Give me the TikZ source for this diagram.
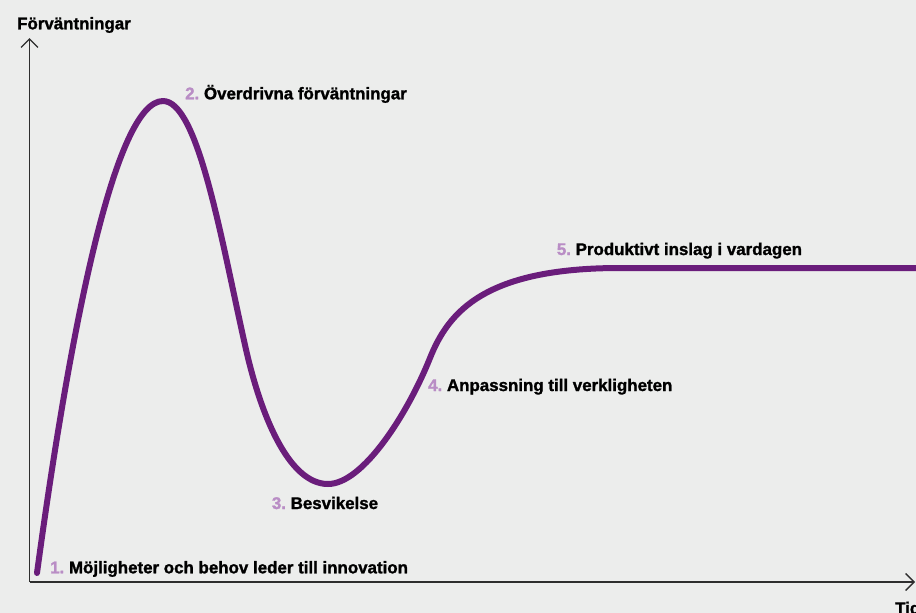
\documentclass[tikz,border=0pt]{standalone}
\usepackage{fontspec}
\setmainfont{Liberation Sans}[BoldFeatures={FakeBold=1.4}]
\usetikzlibrary{arrows.meta}
\definecolor{bg}{HTML}{ECEDEC}
\definecolor{curve}{HTML}{6A1D7B}
\definecolor{numc}{HTML}{B98DC5}
\definecolor{axis}{HTML}{2E2E2E}
\tikzset{
  lbl/.style={anchor=base west, inner sep=0pt, font=\fontsize{16.9}{20}\selectfont\bfseries, text=black},
  axisline/.style={draw=axis, line width=1.3pt, -{Straight Barb[length=8.5pt,width=17pt,line width=1.3pt]}},
  hype/.style={draw=curve, line width=6pt, line cap=round, line join=round}
}
\newcommand{\stepnum}[1]{{\color{numc}#1}\ }
\begin{document}
\begin{tikzpicture}[x=1pt,y=-1pt]
  \fill[bg] (0,0) rectangle (916,613);
  \useasboundingbox (0,0) rectangle (916,613);

  % axes
  \coordinate (origin) at (29.5,582);
  \coordinate (ytop) at (29.5,38);
  \coordinate (xend) at (915,582);
  \draw[axisline] (origin) -- (ytop);
  \draw[axisline] (origin) -- (xend);
  \node[lbl] (ylabel) at (17,29.3) {Förväntningar};
  \node[lbl] (xlabel) at (895,614) {Tid};

  % hype cycle curve: rise, peak, fall, trough, slope, plateau
  \coordinate (start) at (37,573);
  \coordinate (peak) at (163,101);
  \coordinate (fall) at (245,345);
  \coordinate (trough) at (328,484);
  \coordinate (climb) at (430,358);
  \coordinate (level) at (620,268);
  \coordinate (plateau) at (925,268);
  \draw[hype] (start)
    .. controls (70,330) and (115,101) .. (peak)
    .. controls (198,101) and (221,238) .. (fall)
    .. controls (260,413) and (288,484) .. (trough)
    .. controls (363,484) and (407.7,413.7) .. (climb)
    .. controls (448.6,311.6) and (485,268) .. (level)
    -- (plateau);

  % phase labels
  \node[lbl] (p1) at (50,573.3) {\stepnum{1.}Möjligheter och behov leder till innovation};
  \node[lbl] (p2) at (185,99.3) {\stepnum{2.}Överdrivna förväntningar};
  \node[lbl] (p3) at (271.7,509) {\stepnum{3.}Besvikelse};
  \node[lbl] (p4) at (428,391) {\stepnum{4.}Anpassning till verkligheten};
  \node[lbl] (p5) at (556.7,255) {\stepnum{5.}Produktivt inslag i vardagen};
\end{tikzpicture}
\end{document}
